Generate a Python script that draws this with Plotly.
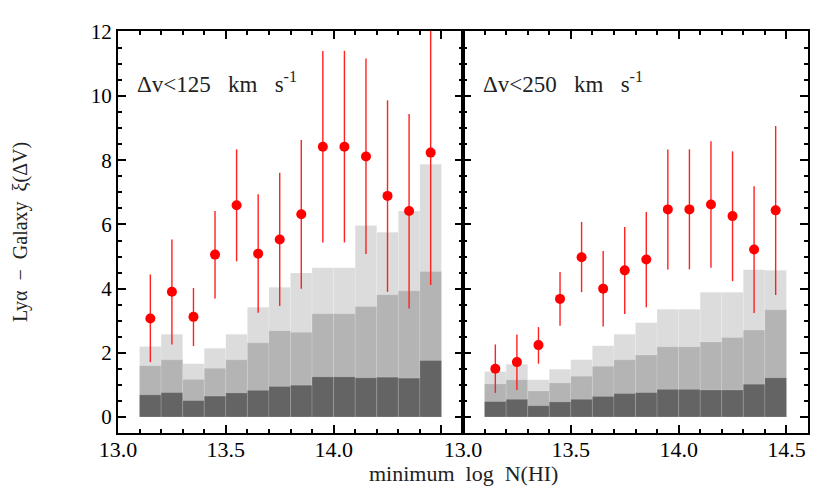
from __future__ import annotations

import plotly.graph_objects as go

# bin centres of minimum log N(HI)
LOG_NHI = [13.15, 13.25, 13.35, 13.45, 13.55, 13.65, 13.75,
           13.85, 13.95, 14.05, 14.15, 14.25, 14.35, 14.45]

# --- dv < 125 km/s panel ---
XI_125 = [3.07, 3.90, 3.12, 5.06, 6.60, 5.09, 5.53, 6.32, 8.42, 8.42, 8.12, 6.89, 6.42, 8.24]
XI_125_HI = [4.44, 5.53, 4.02, 6.42, 8.34, 6.94, 7.61, 8.63, 11.41, 11.41, 11.17, 9.87, 9.44, 12.6]
XI_125_LO = [1.71, 2.26, 2.21, 3.69, 4.85, 3.25, 3.46, 4.00, 5.44, 5.44, 5.08, 3.90, 3.38, 4.11]
BAND_125_OUTER = [2.20, 2.58, 1.66, 2.14, 2.58, 3.42, 4.04, 4.49, 4.65, 4.65, 5.97, 5.76, 6.42, 7.88]
BAND_125_MID = [1.60, 1.78, 1.17, 1.52, 1.78, 2.31, 2.69, 2.64, 3.22, 3.22, 3.44, 3.81, 3.93, 4.53]
BAND_125_INNER = [0.69, 0.76, 0.51, 0.65, 0.75, 0.83, 0.95, 0.99, 1.25, 1.25, 1.22, 1.24, 1.21, 1.76]

# --- dv < 250 km/s panel ---
XI_250 = [1.50, 1.71, 2.24, 3.68, 4.98, 4.00, 4.57, 4.91, 6.47, 6.47, 6.62, 6.26, 5.22, 6.44]
XI_250_HI = [2.26, 2.57, 2.80, 4.52, 6.08, 5.17, 5.92, 6.39, 8.34, 8.34, 8.59, 8.28, 7.19, 9.07]
XI_250_LO = [0.75, 0.84, 1.66, 2.84, 3.89, 2.82, 3.21, 3.42, 4.60, 4.60, 4.65, 4.23, 3.24, 3.80]
BAND_250_OUTER = [1.42, 1.64, 1.16, 1.49, 1.78, 2.22, 2.58, 2.94, 3.36, 3.36, 3.89, 3.89, 4.59, 4.57]
BAND_250_MID = [1.03, 1.16, 0.81, 1.06, 1.27, 1.58, 1.78, 1.93, 2.19, 2.19, 2.34, 2.48, 2.71, 3.34]
BAND_250_INNER = [0.48, 0.55, 0.35, 0.47, 0.55, 0.64, 0.73, 0.76, 0.86, 0.86, 0.84, 0.84, 1.02, 1.22]

X_TICKS = [13.0, 13.5, 14.0, 14.5]
X_TICKTEXT_LEFT = ["13.0", "13.5", "14.0", " "]
X_TICKTEXT_RIGHT = ["13.0", "13.5", "14.0", "14.5"]
Y_TICKS = [0, 2, 4, 6, 8, 10, 12]

FONT = "Liberation Serif"
BAND_COLORS = ["#dcdcdc", "#b4b4b4", "#646464"]


def _add_panel(fig: go.Figure, xaxis: str, yaxis: str, xi, hi, lo, bands) -> None:
    for values, color in zip(bands, BAND_COLORS):
        fig.add_trace(
            go.Bar(
                x=LOG_NHI,
                y=values,
                width=0.1,
                marker={"color": color, "line": {"color": "rgba(255,255,255,0.25)", "width": 0.6}},
                xaxis=xaxis,
                yaxis=yaxis,
                showlegend=False,
                hoverinfo="skip",
            )
        )
    fig.add_trace(
        go.Scatter(
            x=LOG_NHI,
            y=xi,
            mode="markers",
            marker={"color": "#ff0000", "size": 10},
            error_y={
                "type": "data",
                "symmetric": False,
                "array": [h - v for h, v in zip(hi, xi)],
                "arrayminus": [v - l for v, l in zip(xi, lo)],
                "color": "#ff2020",
                "thickness": 1.4,
                "width": 0,
            },
            xaxis=xaxis,
            yaxis=yaxis,
            showlegend=False,
        )
    )


def _xaxis(domain, ticktext):
    return {
        "domain": domain,
        "range": [13.0, 14.6],
        "tickvals": X_TICKS,
        "ticktext": ticktext,
        "ticks": "inside",
        "ticklen": 8,
        "tickwidth": 1.5,
        "tickcolor": "black",
        "ticklabelstandoff": -4,
        "minor": {"dtick": 0.1, "ticks": "inside", "ticklen": 4, "tickwidth": 1.5, "tickcolor": "black"},
        "showline": True,
        "linecolor": "black",
        "linewidth": 2,
        "mirror": "ticks",
        "showgrid": False,
        "zeroline": False,
        "tickfont": {"family": FONT, "size": 22, "color": "black"},
    }


def _yaxis(anchor, show_labels):
    return {
        "anchor": anchor,
        "range": [-0.5, 12.03],
        "tickvals": Y_TICKS,
        "showticklabels": show_labels,
        "ticks": "inside",
        "ticklen": 8,
        "tickwidth": 1.5,
        "tickcolor": "black",
        "minor": {"dtick": 0.5, "ticks": "inside", "ticklen": 4, "tickwidth": 1.5, "tickcolor": "black"},
        "showline": True,
        "linecolor": "black",
        "linewidth": 2,
        "mirror": "ticks",
        "showgrid": False,
        "zeroline": False,
        "tickfont": {"family": FONT, "size": 21, "color": "black"},
    }


fig = go.Figure()
_add_panel(fig, "x", "y", XI_125, XI_125_HI, XI_125_LO, [BAND_125_OUTER, BAND_125_MID, BAND_125_INNER])
_add_panel(fig, "x2", "y2", XI_250, XI_250_HI, XI_250_LO, [BAND_250_OUTER, BAND_250_MID, BAND_250_INNER])

fig.update_layout(
    width=830,
    height=489,
    barmode="overlay",
    plot_bgcolor="white",
    paper_bgcolor="white",
    # page body adds an 8px offset, margins compensate for it
    margin={"l": 110, "r": 30, "t": 23, "b": 64},
    xaxis=_xaxis([0.0, 0.5], X_TICKTEXT_LEFT),
    xaxis2=_xaxis([0.5, 1.0], X_TICKTEXT_RIGHT) | {"anchor": "y2"},
    yaxis=_yaxis("x", True),
    yaxis2=_yaxis("x2", False) | {"matches": "y"},
    annotations=[
        {
            "text": "Δv&lt;125   km   s<sup>-1</sup>",
            "xref": "x domain", "yref": "y domain",
            "x": 0.049, "y": 0.871, "xanchor": "left", "yanchor": "middle",
            "showarrow": False,
            "font": {"family": FONT, "size": 23, "color": "#222"},
        },
        {
            "text": "Δv&lt;250   km   s<sup>-1</sup>",
            "xref": "x2 domain", "yref": "y2 domain",
            "x": 0.052, "y": 0.871, "xanchor": "left", "yanchor": "middle",
            "showarrow": False,
            "font": {"family": FONT, "size": 23, "color": "#222"},
        },
        {
            "text": "minimum  log  N(HI)",
            "xref": "paper", "yref": "paper",
            "x": 0.5, "y": -0.137, "xanchor": "center", "yanchor": "bottom",
            "showarrow": False,
            "font": {"family": FONT, "size": 22, "color": "#222"},
        },
        {
            "text": "Lyα  −  Galaxy  ξ(ΔV)",
            "xref": "paper", "yref": "paper",
            "x": -0.142, "y": 0.5, "xanchor": "center", "yanchor": "middle",
            "textangle": -90,
            "showarrow": False,
            "font": {"family": FONT, "size": 20, "color": "#222"},
        },
    ],
)

fig.write_html("out.html")
